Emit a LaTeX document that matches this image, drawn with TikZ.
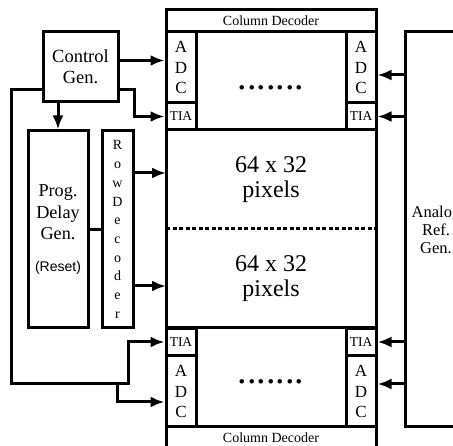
\documentclass[tikz,border=0pt]{standalone}
\usepackage{fontspec}
\setmainfont{Liberation Serif}
\setsansfont{Liberation Sans}
\usetikzlibrary{arrows.meta,positioning,calc}
\tikzset{
  blk/.style={draw, rectangle, inner sep=0pt, align=center},
  decoder/.style={blk, minimum width=210pt, minimum height=22pt, font=\fontsize{14}{16}\selectfont},
  adc/.style={blk, minimum width=30pt, minimum height=71pt, font=\fontsize{17}{20.5}\selectfont},
  tia/.style={blk, minimum width=30pt, minimum height=27pt, font=\fontsize{13.5}{15}\selectfont},
  pix/.style={inner sep=0pt, outer sep=0pt, minimum width=210pt, minimum height=99pt, align=center, font=\fontsize{24}{25}\selectfont},
  dots/.style={anchor=base, inner sep=0pt, font=\fontsize{38}{38}\selectfont},
  arr/.style={-{Latex[length=14pt,width=11pt]}},
}

\begin{document}
\begin{tikzpicture}[x=1pt, y=-1pt, line width=3pt]
\useasboundingbox (0,0) rectangle (453,446);
\clip (0,0) rectangle (453,446);
% array
\node[decoder] (colT) at (271,21) {Column Decoder};
\node[adc] (adcTL) at (181,67.5) {A\\D\\C};
\node[tia] (tiaTL) at (181,116.5) {TIA};
\node[adc] (adcTR) at (361,67.5) {A\\D\\C};
\node[tia] (tiaTR) at (361,116.5) {TIA};
\node[dots] (dotsT) at (271,90) {.......};
\node[pix] (pixT) at (271,179.5) {64 x 32\\pixels};
\node[pix] (pixB) at (271,278.5) {64 x 32\\pixels};
\node[tia] (tiaBL) at (181,342) {TIA};
\node[adc] (adcBL) at (181,391.5) {A\\D\\C};
\node[tia] (tiaBR) at (361,342) {TIA};
\node[adc] (adcBR) at (361,391.5) {A\\D\\C};
\node[dots] (dotsB) at (271,384) {.......};
\node[decoder] (colB) at (271,438) {Column Decoder};
\draw (pixT.south west) -- (pixT.north west) -- (pixT.north east) -- (pixT.south east);
\draw (pixB.north west) -- (pixB.south west) -- (pixB.south east) -- (pixB.north east);
\draw[dash pattern=on 4pt off 2.5pt] (pixT.south west) -- (pixT.south east);
% left side
\node[blk, minimum width=75pt, minimum height=70pt, font=\fontsize{18.5}{21}\selectfont] (ctrl) at (80.5,67) {Control\\Gen.};
\node[blk, minimum width=60pt, minimum height=197pt, font=\fontsize{18.2}{21.5}\selectfont] (delay) at (58,229.5)
  {Prog.\\Delay\\Gen.\\[10pt]{\sffamily\fontsize{14}{16}\selectfont (Reset)}};
\node[blk, minimum width=31pt, minimum height=197pt, font=\fontsize{14}{18.7}\selectfont] (rowdec) at (117.5,229.5)
  {R\\o\\w\\D\\e\\c\\o\\d\\e\\r};
% right side
\node[blk, minimum width=62pt, minimum height=395pt, font=\fontsize{16.5}{18}\selectfont] (analog) at (436,229.5)
  {Analog\\Ref.\\Gen.};
% control lines
\draw[arr] ($(ctrl.north east)+(0,30)$) -- ($(adcTL.north west)+(0,30)$);
\draw[arr] ($(ctrl.south east)+(0,-14)$) -- ++(15,0) |- (tiaTL.west);
\draw[arr] (ctrl.south -| delay.north) -- (delay.north);
\coordinate (split) at (117,384);
\draw[arr] ($(ctrl.south west)+(0,-14)$) -- ++(-30,0) |- (split) -- ++(11,0) |- (tiaBL.west);
\draw[arr] (split) |- ($(adcBL.west)+(0,10.5)$);
\draw (delay.east) -- (rowdec.west);
\draw[arr] ($(rowdec.east)+(0,-56.5)$) coordinate (rw1) -- (rw1 -| pixT.west);
\draw[arr] ($(rowdec.east)+(0,56.5)$) coordinate (rw2) -- (rw2 -| pixB.west);
% references
\coordinate (a1) at ($(adcTR.east)+(0,7.5)$);
\coordinate (a2) at ($(adcBR.east)+(0,-7.5)$);
\draw[arr] (a1 -| analog.west) -- (a1);
\draw[arr] (analog.west |- tiaTR.east) -- (tiaTR.east);
\draw[arr] (analog.west |- tiaBR.east) -- (tiaBR.east);
\draw[arr] (a2 -| analog.west) -- (a2);
\end{tikzpicture}
\end{document}
